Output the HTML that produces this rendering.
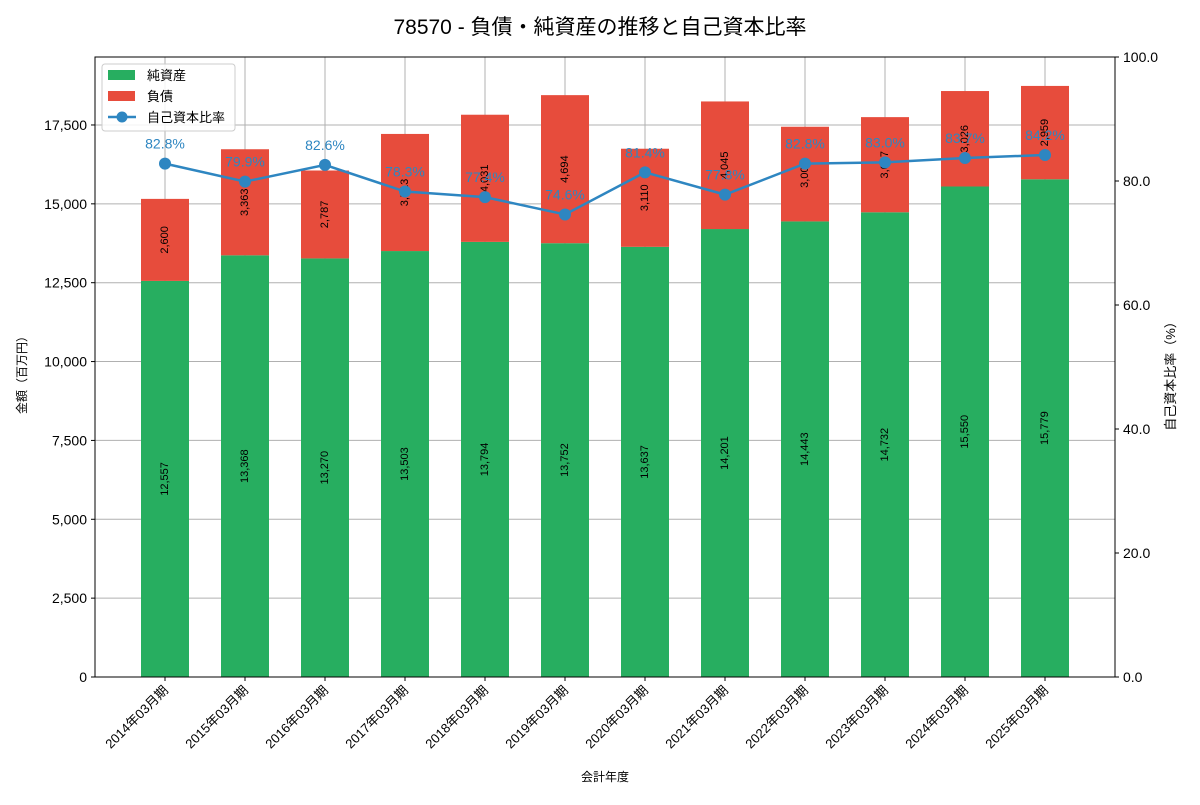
<!DOCTYPE html>
<html><head><meta charset="utf-8"><style>
body{margin:0;background:#fff;font-family:"Liberation Sans","Noto Sans CJK JP",sans-serif;}
</style></head><body>
<svg id="c" width="1200" height="800" xmlns="http://www.w3.org/2000/svg" font-family="Liberation Sans, Noto Sans CJK JP, sans-serif">
<text x="600" y="34" font-size="21" text-anchor="middle">78570 - 負債・純資産の推移と自己資本比率</text>
<g id="grid"></g><g id="bars"></g><g id="line"></g><g id="axes"></g>
</svg>
<script>
const categories=["2014年03月期","2015年03月期","2016年03月期","2017年03月期","2018年03月期","2019年03月期","2020年03月期","2021年03月期","2022年03月期","2023年03月期","2024年03月期","2025年03月期"];
const netAssets=[12557,13368,13270,13503,13794,13752,13637,14201,14443,14732,15550,15779];
const liabilities=[2600,3363,2787,3713,4031,4694,3110,4045,3001,3017,3026,2959];
const ratios=[82.8,79.9,82.6,78.3,77.4,74.6,81.4,77.8,82.8,83.0,83.7,84.2];
const leftTicks=[0,2500,5000,7500,10000,12500,15000,17500];
const rightTicks=[0,20,40,60,80,100];
const L=95,R=1115,T=57,B=677,ymax=19655;
const NS="http://www.w3.org/2000/svg";
const x=i=>L+(i+0.875)*80;
const y=v=>B-(v/ymax)*(B-T);
const y2=v=>B-(v/100)*(B-T);
function mk(tag,attrs,parent,text){const e=document.createElementNS(NS,tag);for(const k in attrs)e.setAttribute(k,attrs[k]);if(text!==undefined)e.textContent=text;document.getElementById(parent).appendChild(e);return e;}
// grid
leftTicks.forEach(t=>{const g=mk('line',{x1:L,x2:R,y1:y(t),y2:y(t),stroke:'#b0b0b0','stroke-width':1},'grid');

});
categories.forEach((c,i)=>{const g=mk('line',{x1:x(i),x2:x(i),y1:T,y2:B,stroke:'#b0b0b0','stroke-width':1},'grid');

});
// bars
const bw=48;
categories.forEach((c,i)=>{
const a=netAssets[i],l=liabilities[i];
const g1=mk('rect',{x:x(i)-bw/2,y:y(a),width:bw,height:B-y(a),fill:'#27ae60'},'bars');


const g2=mk('rect',{x:x(i)-bw/2,y:y(a+l),width:bw,height:y(a)-y(a+l),fill:'#e74c3c'},'bars');


const cy1=y(a/2),cy2=y(a+l/2);
const t1=mk('text',{x:x(i),y:cy1,'font-size':11,'text-anchor':'middle','dominant-baseline':'central',transform:`rotate(-90 ${x(i)} ${cy1})`},'bars',a.toLocaleString('en-US'));


const t2=mk('text',{x:x(i),y:cy2,'font-size':11,'text-anchor':'middle','dominant-baseline':'central',transform:`rotate(-90 ${x(i)} ${cy2})`},'bars',l.toLocaleString('en-US'));


});
// line
const pl=mk('polyline',{points:ratios.map((r,i)=>x(i)+','+y2(r)).join(' '),fill:'none',stroke:'#2e86c1','stroke-width':2.5},'line');


ratios.forEach((r,i)=>{
const p=mk('circle',{cx:x(i),cy:y2(r),r:6,fill:'#2e86c1'},'line');


const t=mk('text',{x:x(i),y:y2(r)-15,'font-size':14,'text-anchor':'middle',fill:'#2e86c1'},'line',r.toFixed(1)+'%');


});
// axes
const fr=mk('rect',{x:L,y:T,width:R-L,height:B-T,fill:'none',stroke:'#000','stroke-width':1},'axes');


leftTicks.forEach(t=>{mk('line',{x1:L-4,x2:L,y1:y(t),y2:y(t),stroke:'#000'},'axes');
const e=mk('text',{x:L-8,y:y(t)+5,'font-size':14,'text-anchor':'end'},'axes',t.toLocaleString('en-US'));

});
rightTicks.forEach(t=>{mk('line',{x1:R,x2:R+4,y1:y2(t),y2:y2(t),stroke:'#000'},'axes');
const e=mk('text',{x:R+8,y:y2(t)+5,'font-size':14},'axes',t.toFixed(1));

});
categories.forEach((c,i)=>{mk('line',{x1:x(i),x2:x(i),y1:B,y2:B+4,stroke:'#000'},'axes');
const e=mk('text',{x:x(i)+4,y:B+14,'font-size':13,'text-anchor':'end',transform:`rotate(-45 ${x(i)+4} ${B+14})`},'axes',c);

});
</script>
<svg style="position:absolute;left:0;top:0" width="1200" height="800" font-family="Liberation Sans, Noto Sans CJK JP, sans-serif">
<text x="605" y="781" font-size="12" text-anchor="middle">会計年度</text>
<text x="26" y="372" font-size="12" text-anchor="middle" transform="rotate(-90 26 372)">金額（百万円）</text>
<text x="1175" y="373" font-size="13" text-anchor="middle" transform="rotate(-90 1175 373)">自己資本比率（%）</text>
<g>
<rect x="102" y="64" width="133" height="67" fill="#fff" fill-opacity="0.85" stroke="#ccc" rx="3"/>
<rect x="108" y="70" width="27" height="10" fill="#27ae60"/><text x="147" y="80" font-size="13">純資産</text>
<rect x="108" y="91" width="27" height="10" fill="#e74c3c"/><text x="147" y="101" font-size="13">負債</text>
<line x1="108" x2="136" y1="117" y2="117" stroke="#2e86c1" stroke-width="2.5"/><circle cx="122" cy="117" r="5.5" fill="#2e86c1"/><text x="147" y="122" font-size="13">自己資本比率</text>
</g>
</svg>
</body></html>
